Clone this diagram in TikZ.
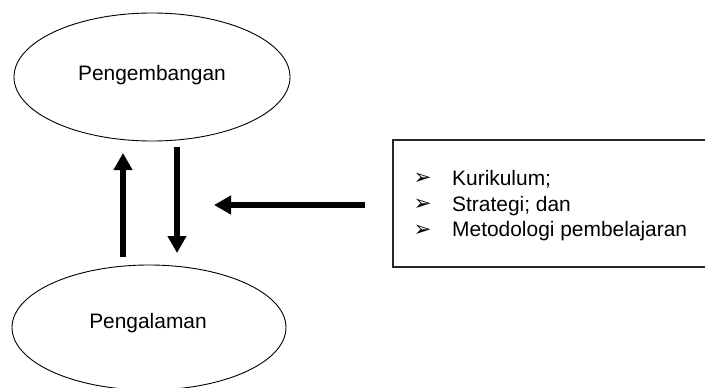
\documentclass[tikz,border=0pt]{standalone}
\usepackage{fontspec}
\setmainfont{Liberation Sans}
\newfontfamily\dejavu{DejaVu Sans}
\usetikzlibrary{shapes.geometric,arrows.meta}
\begin{document}
\begin{tikzpicture}[x=1bp,y=-1bp,
  oval/.style={draw=black,line width=0.9bp,ellipse,inner sep=0pt},
  lbl/.style={font=\fontsize{21}{25}\selectfont,anchor=base,inner sep=0pt},
  bigarrow/.style={line width=5.5bp,-{Triangle[length=17bp,width=18bp]}},
  listbox/.style={draw=black!85,line width=1.3bp,inner sep=0pt},
  bullet/.style={font=\dejavu\fontsize{21.5}{25}\selectfont,anchor=center,inner sep=0pt}]
\useasboundingbox (0,0) rectangle (705,387);
% ellipses
\node[oval,minimum width=276bp,minimum height=128bp] (dev) at (152,77) {};
\node[lbl] (devt) at (152,80) {Pengembangan};
\node[oval,minimum width=274bp,minimum height=125bp] (exp) at (149,327.5) {};
\node[lbl] (expt) at (148,328) {Pengalaman};
% box
\draw[listbox] (393,140) rectangle (712,267);
\node[bullet] (b1) at (422.5,179) {➢};
\node[bullet] (b2) at (422.5,205) {➢};
\node[bullet] (b3) at (422.5,230.5) {➢};
\node[lbl,anchor=base west] (t1) at (452,185) {Kurikulum;};
\node[lbl,anchor=base west] (t2) at (452,211) {Strategi; dan};
\node[lbl,anchor=base west] (t3) at (452,236.5) {Metodologi pembelajaran};
% arrow ends
\coordinate (upS) at (123,257);
\coordinate (upE) at (123,153);
\coordinate (dnS) at (177,147);
\coordinate (dnE) at (177,253);
\coordinate (hS) at (365,205);
\coordinate (hE) at (214,205);
\draw[bigarrow] (upS) -- (upE);
\draw[bigarrow] (dnS) -- (dnE);
\draw[bigarrow] (hS) -- (hE);
\end{tikzpicture}
\end{document}
